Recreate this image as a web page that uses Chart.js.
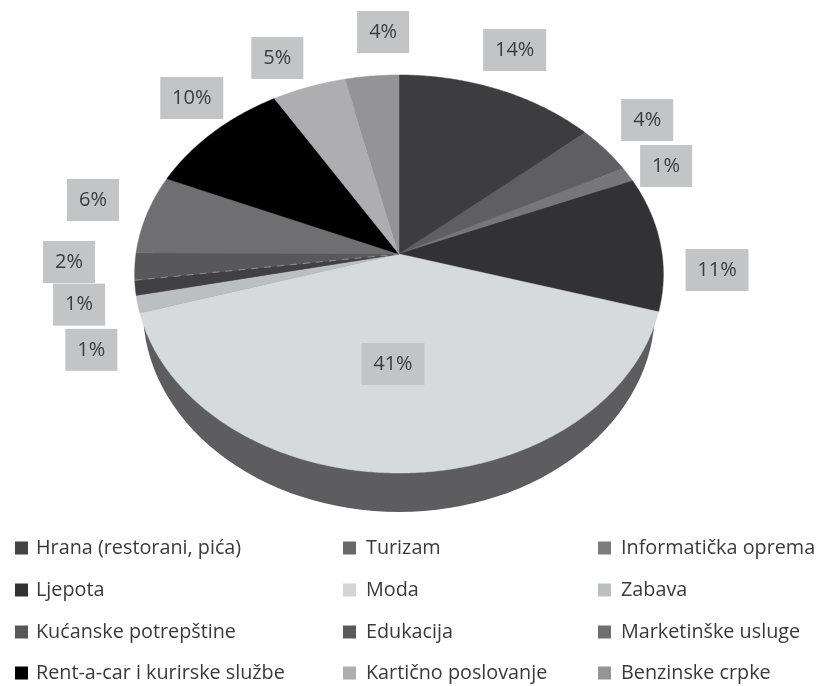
<!DOCTYPE html>
<html>
<head>
<meta charset="utf-8">
<style>html,body{margin:0;padding:0;background:#fff}canvas{display:block}</style>
<script src="https://cdn.jsdelivr.net/npm/chart.js@4"></script>
</head>
<body>
<canvas id="c" width="816" height="686"></canvas>
<script>
const categories = ['Hrana (restorani, pića)','Turizam','Informatička oprema','Ljepota','Moda','Zabava','Kućanske potrepštine','Edukacija','Marketinške usluge','Rent-a-car i kurirske službe','Kartično poslovanje','Benzinske crpke'];
const shares = [13.6,3.9,1.2,10.9,40.7,1.4,1.2,2.2,6.4,9.9,5.0,3.6];
const sliceColors = ['#3d3c3e','#5f5f61','#77777a','#323133','#d7dadb','#bcbfc1','#404042','#58585a','#6f6f71','#000000','#aeaeb0','#949496'];
const swatchColors = ['#444446','#68686a','#7c7c7e','#323133','#d2d4d5','#bcbfc1','#58585a','#5a5a5c','#6f6f71','#000000','#aeaeb0','#949496'];
const labelOffsets = [[15.8,-39.7],[41.8,-29.6],[38.1,-8.6],[56.8,26.5],[-7,-109],[-46.4,45.6],[-56.2,16.8],[-65.9,-4.4],[-53.9,-14.3],[-21.7,-34.3],[-31.7,-28.9],[11.1,-44]];

const view = {k:0.1005, ax:263/254, by:197/254, baseDrop:56/254, baseRx:256/254, baseRy:202/254, sideColor:'#5d5d5f'};
const legendCols = [[15,36],[343,366],[598,621]];
const legendRows = [548,590,632,673];
const dashedSeamIndex = 6;
const FONT = '"Open Sans", sans-serif';

function project(el, theta, r){
  const u = r*Math.sin(theta), c = r*Math.cos(theta), w = 1 + view.k*c;
  return {x: el.x + el.outerRadius*view.ax*u/w, y: el.y - el.outerRadius*view.by*c/w};
}
const tiltedPie = {
  id:'tiltedPie',
  beforeDatasetsDraw(chart){
    const ctx = chart.ctx, arcs = chart.getDatasetMeta(0).data, e0 = arcs[0], R = e0.outerRadius;
    ctx.save();
    ctx.fillStyle = view.sideColor;
    ctx.beginPath();
    ctx.ellipse(e0.x, e0.y + R*view.baseDrop, R*view.baseRx, R*view.baseRy, 0, 0, Math.PI*2);
    ctx.fill();
    arcs.forEach((el,i)=>{
      const a0 = el.startAngle + Math.PI/2, a1 = el.endAngle + Math.PI/2;
      const n = Math.max(2, Math.ceil((a1-a0)/0.01));
      ctx.beginPath();
      ctx.moveTo(el.x, el.y);
      for(let s=0;s<=n;s++){ const p = project(el, a0+(a1-a0)*s/n, 1); ctx.lineTo(p.x,p.y); }
      ctx.closePath();
      ctx.fillStyle = sliceColors[i];
      ctx.strokeStyle = sliceColors[i];
      ctx.lineWidth = 0.5;
      ctx.fill(); ctx.stroke();
    });
    const seam = arcs[dashedSeamIndex], edge = project(seam, seam.endAngle + Math.PI/2, 1);
    ctx.strokeStyle = '#8e8e90';
    ctx.lineWidth = 1;
    ctx.setLineDash([7,6]);
    ctx.beginPath();
    ctx.moveTo(edge.x, edge.y);
    ctx.lineTo(seam.x, seam.y);
    ctx.stroke();
    ctx.restore();
    return false;
  },
  afterDraw(chart){
    const ctx = chart.ctx, arcs = chart.getDatasetMeta(0).data;
    ctx.save();
    ctx.textBaseline = 'middle';
    arcs.forEach((el,i)=>{
      const mid = (el.startAngle+el.endAngle)/2 + Math.PI/2;
      const p = project(el, mid, 1);
      const cx = p.x + labelOffsets[i][0], cy = p.y + labelOffsets[i][1];
      const txt = Math.round(shares[i]) + '%';
      const w = txt.length > 2 ? 63 : 52, h = 42;
      ctx.fillStyle = '#c3c4c6';
      ctx.fillRect(cx-w/2, cy-h/2, w, h);
      ctx.fillStyle = '#3c3c3e';
      ctx.font = '20px ' + FONT;
      ctx.textAlign = 'center';
      ctx.fillText(txt, cx, cy);
    });
    categories.forEach((name,i)=>{
      const col = legendCols[i%3], y = legendRows[Math.floor(i/3)];
      ctx.fillStyle = swatchColors[i];
      ctx.fillRect(col[0], y-6.5, 13, 13);
      ctx.fillStyle = '#3a3a3c';
      ctx.font = '19.8px ' + FONT;
      ctx.textAlign = 'left';
      ctx.fillText(name, col[1], y);
    });
    ctx.restore();
  }
};
new Chart(document.getElementById('c'), {
  type:'pie',
  data:{labels:categories, datasets:[{data:shares, backgroundColor:sliceColors, borderWidth:0, hoverOffset:0}]},
  options:{
    responsive:false, animation:false,
    layout:{padding:{left:0,right:18,top:0,bottom:178}},
    plugins:{legend:{display:false},tooltip:{enabled:false}}
  },
  plugins:[tiltedPie]
});
</script>
</body>
</html>
